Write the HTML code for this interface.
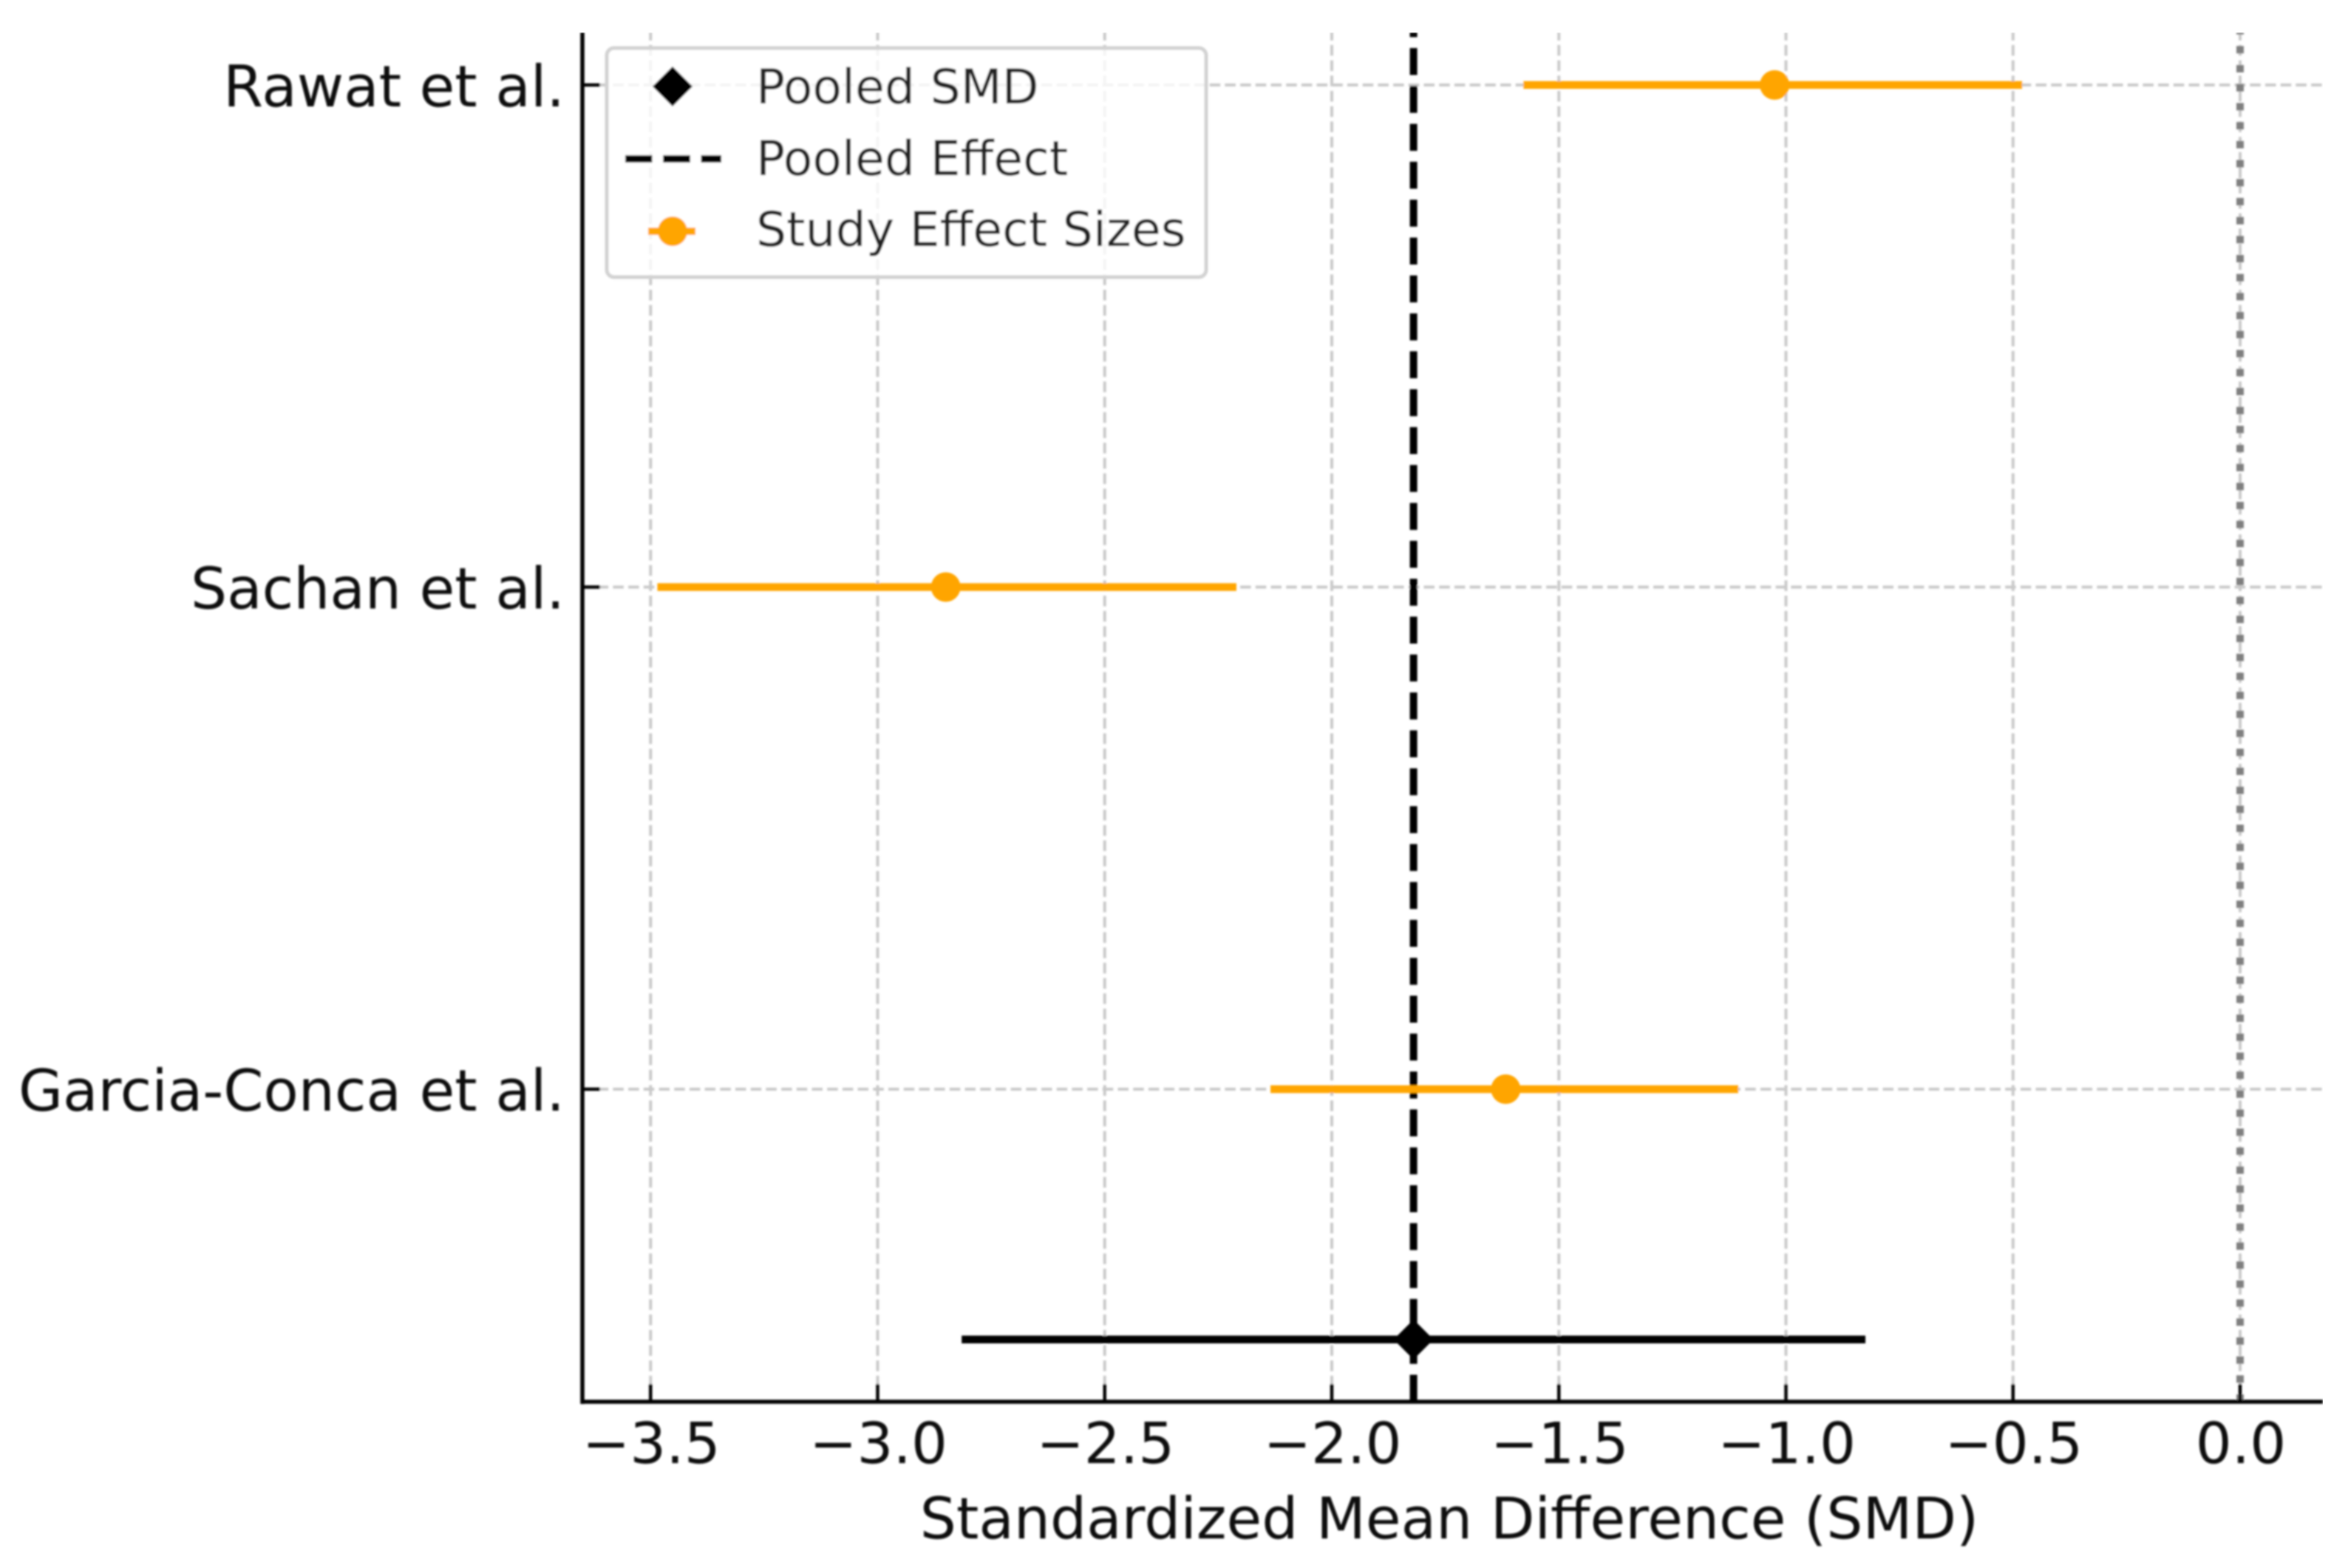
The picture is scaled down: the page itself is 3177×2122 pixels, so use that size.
<!DOCTYPE html>
<html lang="en">
<head>
<meta charset="utf-8">
<title>Forest plot of standardized mean differences</title>
<style>
html,body{margin:0;padding:0;background:#fff;}
svg{display:block;font-family:"DejaVu Sans","Liberation Sans",sans-serif;}
</style>
</head>
<body>
<svg id="chart" xmlns="http://www.w3.org/2000/svg" width="3177" height="2122" viewBox="0 0 3177 2122">
  <defs><filter id="soft" x="0" y="0" width="100%" height="100%"><feGaussianBlur stdDeviation="1.2"/></filter></defs>
  <rect width="3177" height="2122" fill="#fff"/>
  <g id="plot" filter="url(#soft)"></g>
</svg>
<script>
const studyNames = ["Rawat et al.", "Sachan et al.", "Garcia-Conca et al."];
const studyMeans = [-1.025, -2.85, -1.617];
const studyLows = [-1.578, -3.485, -2.135];
const studyHighs = [-0.48, -2.21, -1.105];
const pooledMean = [-1.82];
const pooledLow = [-2.815];
const pooledHigh = [-0.825];
const xTicks = [-3.5, -3.0, -2.5, -2.0, -1.5, -1.0, -0.5, 0.0];
const xTickLabels = ["\u22123.5", "\u22123.0", "\u22122.5", "\u22122.0", "\u22121.5", "\u22121.0", "\u22120.5", "0.0"];
const legendLabels = ["Pooled SMD", "Pooled Effect", "Study Effect Sizes"];
const xAxisTitle = "Standardized Mean Difference (SMD)";

const NS = "http://www.w3.org/2000/svg";
const plot = document.getElementById("plot");
const left = 788, right = 3143, top_ = 44, bottom = 1897;
function xScale(v) { return 3031 + v * 614.5; }
function yScale(i) { return 115 + i * 679.5; }
const pooledRow = 2.4985;

function add(tag, attrs, parent) {
  const el = document.createElementNS(NS, tag);
  for (const k in attrs) el.setAttribute(k, attrs[k]);
  (parent || plot).appendChild(el);
  return el;
}
function line(x1, y1, x2, y2, stroke, width, dash) {
  const el = add("line", { x1: x1, y1: y1, x2: x2, y2: y2, stroke: stroke, "stroke-width": width });
  if (dash) el.setAttribute("stroke-dasharray", dash);
  return el;
}
function text(x, y, s, size, anchor, fill) {
  const el = add("text", { x: x, y: y, "font-size": size, "text-anchor": anchor, fill: fill });
  el.textContent = s;
  return el;
}
function diamond(cx, cy, r) {
  return add("polygon", { points: (cx - r) + "," + cy + " " + cx + "," + (cy - r) + " " + (cx + r) + "," + cy + " " + cx + "," + (cy + r), fill: "#000" });
}

// Gridlines
xTicks.forEach(function (t) {
  const g = line(xScale(t), bottom, xScale(t), top_, "#c9c9c9", 4, "14.5 6.2");
  
  
});
studyNames.forEach(function (n, i) {
  const g = line(left, yScale(i), right, yScale(i), "#c9c9c9", 4, "14.5 6.2");
  
  
});

// Reference lines
const zeroLine = line(xScale(0), bottom, xScale(0), top_, "#7f7f7f", 10, "10 15.7");


const pooledLine = line(xScale(pooledMean[0]), bottom, xScale(pooledMean[0]), top_, "#000", 10, "36.5 14.8");



// Study series
studyNames.forEach(function (n, i) {
  const ci = line(xScale(studyLows[i]), yScale(i), xScale(studyHighs[i]), yScale(i), "#ffa500", 10.5);
  
  
  const pt = add("circle", { cx: xScale(studyMeans[i]), cy: yScale(i), r: 20, fill: "#ffa500" });
  
  
});

// Pooled estimate
const pooledCi = line(xScale(pooledLow[0]), yScale(pooledRow), xScale(pooledHigh[0]), yScale(pooledRow), "#000", 10.5);


const pooledMark = diamond(xScale(pooledMean[0]), yScale(pooledRow), 27);



// Legend
const legend = add("g", {});


const legendBox = add("rect", { x: 821, y: 65, width: 811, height: 310, rx: 10, fill: "#fff", "fill-opacity": 0.8, stroke: "#d2d2d2", "stroke-width": 5 }, legend);


const legendDiamond = diamond(910, 117, 27);
legend.appendChild(legendDiamond);


const legendDash = line(846, 215, 976, 215, "#000", 10, "36.5 14.8");
legend.appendChild(legendDash);


const legendBar = line(877, 313, 941, 313, "#ffa500", 10);
legend.appendChild(legendBar);


const legendDot = add("circle", { cx: 910, cy: 313, r: 20, fill: "#ffa500" }, legend);


const legendBaselines = [140, 237, 333];
legendLabels.forEach(function (s, i) {
  const t = text(1023, legendBaselines[i], s, 64.8, "start", "#222");
  legend.appendChild(t);
  
  
});

// Axes
const spineLeft = line(left, top_, left, bottom + 3, "#000", 5.5);


const spineBottom = line(left - 2.5, bottom, right, bottom, "#000", 5.5);



xTicks.forEach(function (t, i) {
  const k = line(xScale(t), bottom, xScale(t), bottom - 24, "#000", 4.5);
  
  
  const l = text(xScale(t) + 1, 1980, xTickLabels[i], 77, "middle", "#111");
  
  
});
studyNames.forEach(function (n, i) {
  const k = line(left, yScale(i), left + 24, yScale(i), "#000", 4.5);
  
  
  const l = text(764, yScale(i) + 29, n, 77.5, "end", "#111");
  
  
});
const xTitle = text(1961, 2082, xAxisTitle, 77.5, "middle", "#111");


</script>
</body>
</html>
